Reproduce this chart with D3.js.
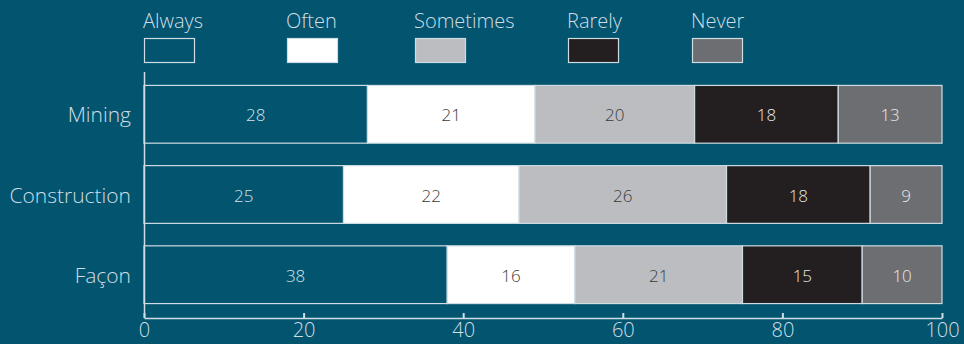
<!DOCTYPE html>
<html>
<head>
<meta charset="utf-8">
<script src="https://cdn.jsdelivr.net/npm/d3@7"></script>
<style>
  html, body { margin: 0; padding: 0; background: #02546f; }
  svg { display: block; font-family: "Open Sans", "Noto Sans", sans-serif; font-weight: 300; }
</style>
</head>
<body>
<svg id="chart" width="964" height="344"></svg>
<script>
// Survey response shares by sector (percent)
const categories = ["Mining", "Construction", "Façon"];
const seriesNames = ["Always", "Often", "Sometimes", "Rarely", "Never"];
const always    = [28, 25, 38];
const often     = [21, 22, 16];
const sometimes = [20, 26, 21];
const rarely    = [18, 18, 15];
const never     = [13, 9, 10];
const xTicks = [0, 20, 40, 60, 80, 100];

const fills = ["#02546f", "#ffffff", "#bcbdc0", "#231f20", "#6d6e71"];
const textFills = ["#d6e3ea", "#3a3a3a", "#3a3a3a", "#e8e8e8", "#e8e8e8"];
const edge = "#cfdde3";
const ink = "#cfdde5";

const rows = categories.map((c, i) => ({
  cat: c, Always: always[i], Often: often[i], Sometimes: sometimes[i], Rarely: rarely[i], Never: never[i]
}));
const stacked = d3.stack().keys(seriesNames)(rows);

const svg = d3.select("#chart");
const x = d3.scaleLinear().domain([0, 100]).range([144, 942]);
const y = d3.scaleBand().domain(categories).range([75, 314]).paddingInner(0.28).paddingOuter(0.13);

// Stacked bars
const layer = svg.append("g").selectAll("g").data(stacked).join("g")
  .attr("fill", (d, i) => fills[i]);
layer.selectAll("rect").data(d => d).join("rect")
  .attr("x", d => x(d[0]))
  .attr("y", d => y(d.data.cat))
  .attr("width", d => x(d[1]) - x(d[0]))
  .attr("height", y.bandwidth())
  .attr("stroke", edge)
  .attr("stroke-width", 1.2);

// Value labels
svg.append("g").selectAll("g").data(stacked).join("g")
  .attr("fill", (d, i) => textFills[i])
  .selectAll("text").data(d => d).join("text")
  .attr("x", d => (x(d[0]) + x(d[1])) / 2)
  .attr("y", d => y(d.data.cat) + y.bandwidth() / 2 + 7)
  .attr("text-anchor", "middle")
  .attr("font-size", 17)
  .text(d => d[1] - d[0]);

// Category labels
svg.append("g").selectAll("text").data(categories).join("text")
  .attr("x", 131)
  .attr("y", d => y(d) + y.bandwidth() / 2 + 8)
  .attr("text-anchor", "end")
  .attr("font-size", 21)
  .attr("fill", ink)
  .text(d => d);

// Vertical axis line
svg.append("line")
  .attr("x1", 144.5).attr("x2", 144.5)
  .attr("y1", 72).attr("y2", 318)
  .attr("stroke", ink).attr("stroke-width", 1.5);

// Bottom axis with inward ticks
const xAxis = svg.append("g")
  .attr("transform", "translate(0,318)")
  .call(d3.axisBottom(x).tickValues(xTicks).tickSize(-5).tickPadding(5).tickSizeOuter(0));
xAxis.select(".domain").attr("stroke", ink).attr("stroke-width", 1.5);
xAxis.selectAll(".tick line").attr("stroke", ink).attr("stroke-width", 2);
xAxis.selectAll(".tick text")
  .attr("fill", ink)
  .attr("font-size", 20)
  .attr("font-family", "'Open Sans', 'Noto Sans', sans-serif")
  .attr("font-weight", 300);

// Legend
const legendX = [144, 287, 415, 568, 692];
const legend = svg.append("g").selectAll("g").data(seriesNames).join("g")
  .attr("transform", (d, i) => `translate(${legendX[i]},0)`);
legend.append("text")
  .attr("x", -1).attr("y", 28)
  .attr("font-size", 20)
  .attr("fill", ink)
  .text(d => d);
legend.append("rect")
  .attr("x", 0.5).attr("y", 38.5)
  .attr("width", 50).attr("height", 24)
  .attr("fill", (d, i) => fills[i])
  .attr("stroke", edge)
  .attr("stroke-width", 1.2);
</script>
</body>
</html>
